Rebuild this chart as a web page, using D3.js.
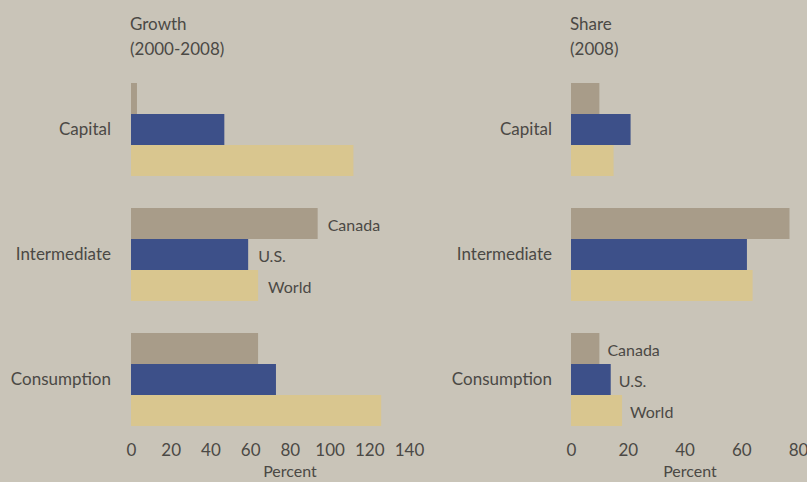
<!DOCTYPE html>
<html>
<head>
<meta charset="utf-8">
<title>Growth and share of imports</title>
<script src="https://d3js.org/d3.v7.min.js"></script>
<style>
  body { margin: 0; background: #c9c4b8; }
  text { font-family: 'Lato', 'Liberation Sans', sans-serif; fill: #4b4945; }
</style>
</head>
<body>
<div id="container"></div>
<script>
  // ******* Data *******
  const categories = ["Capital", "Intermediate", "Consumption"];
  const seriesNames = ["Canada", "U.S.", "World"];

  // Growth (2000-2008), percent
  const growthCanada = [3, 94, 64];
  const growthUS = [47, 59, 73];
  const growthWorld = [112, 64, 126];
  const growthTicks = [0, 20, 40, 60, 80, 100, 120, 140];

  // Share (2008), percent
  const shareCanada = [10, 77, 10];
  const shareUS = [21, 62, 14];
  const shareWorld = [15, 64, 18];
  const shareTicks = [0, 20, 40, 60, 80];

  const colors = ["#a89c89", "#3d5089", "#d9c68f"];

  // ******* Constants *******
  const width = 807, height = 482;
  const fontSize = 17;

  const svg = d3.select("#container").append("svg")
      .attr("width", width)
      .attr("height", height)
      .style("display", "block");

  svg.append("rect")
      .attr("width", width)
      .attr("height", height)
      .attr("fill", "#c9c4b8");

  // shared vertical scales
  const y0 = d3.scaleBand()
      .domain(categories)
      .range([83, 426])
      .paddingInner(0.256)
      .paddingOuter(0);
  const y1 = d3.scaleBand()
      .domain(seriesNames)
      .range([0, y0.bandwidth()]);

  function drawPanel(p) {
    const x = d3.scaleLinear().domain(p.domain).range(p.range);
    const g = svg.append("g");

    // title
    const title = g.append("text")
        .attr("x", p.range[0] - 1)
        .attr("y", 30)
        .style("font-size", fontSize + "px");
    title.append("tspan").attr("x", p.range[0] - 1).text(p.title[0]);
    title.append("tspan").attr("x", p.range[0] - 1).attr("dy", 25).text(p.title[1]);

    const rows = categories.map((c, i) => ({
      cat: c,
      vals: p.values.map((s, j) => ({ name: seriesNames[j], v: s[i], color: colors[j] }))
    }));

    const grp = g.selectAll(".grp")
        .data(rows)
        .join("g")
        .attr("transform", d => `translate(0, ${y0(d.cat)})`);

    grp.selectAll("rect")
        .data(d => d.vals)
        .join("rect")
        .attr("x", x(0))
        .attr("y", d => y1(d.name))
        .attr("width", d => x(d.v) - x(0))
        .attr("height", y1.bandwidth())
        .attr("fill", d => d.color);

    // category labels
    grp.append("text")
        .attr("x", p.labelX)
        .attr("y", y1("U.S.") + y1.bandwidth() / 2)
        .attr("dy", "0.35em")
        .attr("text-anchor", "end")
        .style("font-size", fontSize + "px")
        .text(d => d.cat);

    // series labels on one group
    grp.filter(d => d.cat === p.legendCat)
      .selectAll(".lbl")
        .data(d => d.vals)
        .join("text")
        .attr("class", "lbl")
        .attr("x", d => x(d.v) + p.legendGap)
        .attr("y", d => y1(d.name) + y1.bandwidth() / 2 + 2)
        .attr("dy", "0.35em")
        .style("font-size", (fontSize - 1) + "px")
        .text(d => d.name);

    // axis
    const axis = g.append("g")
        .attr("transform", `translate(0, 440)`)
        .call(d3.axisBottom(x).tickValues(p.ticks).tickSize(0).tickPadding(4));
    axis.select(".domain").remove();
    axis.selectAll("text")
        .style("font-size", fontSize + "px")
        .style("font-family", "'Lato', 'Liberation Sans', sans-serif")
        .attr("fill", "#4b4945");

    g.append("text")
        .attr("x", p.captionX)
        .attr("y", 477)
        .attr("text-anchor", "middle")
        .style("font-size", (fontSize - 1) + "px")
        .text("Percent");
  }

  drawPanel({
    title: ["Growth", "(2000-2008)"],
    values: [growthCanada, growthUS, growthWorld],
    domain: [0, 140],
    range: [131, 409],
    ticks: growthTicks,
    labelX: 111,
    legendCat: "Intermediate",
    legendGap: 10,
    captionX: 290
  });

  drawPanel({
    title: ["Share", "(2008)"],
    values: [shareCanada, shareUS, shareWorld],
    domain: [0, 80],
    range: [571, 798],
    ticks: shareTicks,
    labelX: 552,
    legendCat: "Consumption",
    legendGap: 8,
    captionX: 690
  });
</script>
</body>
</html>
